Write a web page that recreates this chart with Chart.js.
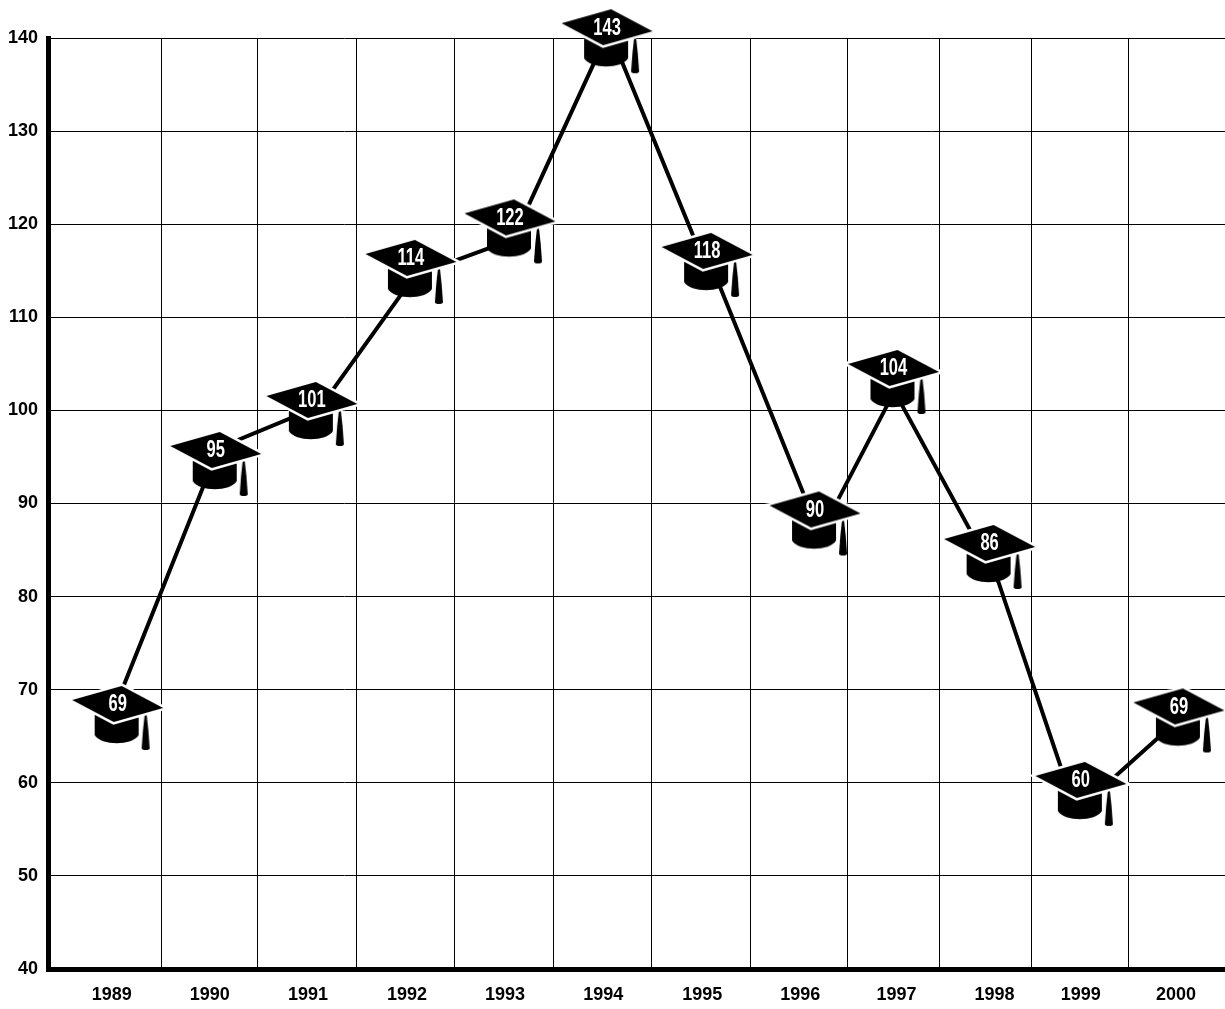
<!DOCTYPE html>
<html>
<head>
<meta charset="utf-8">
<style>html,body{margin:0;padding:0;background:#fff}canvas{display:block}</style>
<script src="https://cdn.jsdelivr.net/npm/chart.js@4"></script>
</head>
<body>
<canvas id="c" width="1225" height="1009"></canvas>
<script>
const years = [1989,1990,1991,1992,1993,1994,1995,1996,1997,1998,1999,2000];
const values = [69,95,101,114,122,143,118,90,104,86,60,69];
// where each mortarboard sits in the picture, in axis units
const hatYear = [1989.21,1990.21,1991.19,1992.20,1993.21,1994.20,1995.22,1996.32,1997.12,1998.10,1999.03,2000.03];
const hatHeight = [68.47,95.75,101.12,116.38,120.73,141.16,117.13,89.36,104.56,85.76,60.31,68.20];
// the connecting line (it kinks once behind the 1995 cap)
const lineYear = [1989.21,1990.24,1991.29,1992.24,1993.24,1994.22,1995.15,1995.27,1996.37,1997.13,1998.19,1998.98,2000.02];
const lineHeight = [68.81,95.97,100.53,114.50,118.37,140.82,116.91,115.40,86.69,102.04,81.57,56.90,66.75];
// the picture's hand-placed year gridlines and year labels, in axis units
const gridYears = [1989.657,1990.636,1991.65,1992.64,1993.654,1994.648,1995.662,1996.651,1997.589,1998.527,1999.516];
const labelYears = [1989.15,1990.15,1991.15,1992.16,1993.16,1994.16,1995.17,1996.17,1997.15,1998.15,1999.03,2000.0];
const yTicks = [40,50,60,70,80,90,100,110,120,130,140];

const FONT = '"Liberation Sans",Arial,sans-serif';

function noPadding(a){a.paddingLeft=a.paddingRight=a.paddingTop=a.paddingBottom=0;}

function makeHat(){
  const cv = document.createElement('canvas');
  cv.width = 100; cv.height = 100;
  const g = cv.getContext('2d');
  g.translate(50,50);
  // tassel
  g.fillStyle = '#000';
  g.beginPath();
  g.moveTo(27.3,8); g.lineTo(28.7,8);
  g.quadraticCurveTo(31,26,32,44);
  g.quadraticCurveTo(32,46,28,46);
  g.quadraticCurveTo(24,46,24,44);
  g.quadraticCurveTo(25,26,27.3,8);
  g.fill();
  // cap
  g.beginPath();
  g.moveTo(-23,0); g.lineTo(21,0); g.lineTo(21,31);
  g.bezierCurveTo(15,42,-17,42,-23,31);
  g.closePath(); g.fill();
  // board with white halo
  g.beginPath();
  g.moveTo(-45.5,-4); g.lineTo(4,-18); g.lineTo(45.5,4); g.lineTo(-4,18);
  g.closePath();
  g.lineWidth = 5; g.strokeStyle = '#fff'; g.lineJoin = 'miter'; g.stroke();
  g.fillStyle = '#000'; g.fill();
  return cv;
}
const hat = makeHat();

const hatLabels = {
  id:'hatLabels',
  afterDatasetsDraw(chart){
    const ctx = chart.ctx;
    const pts = chart.getDatasetMeta(0).data;
    pts.forEach((p,i)=>{
      ctx.save();
      ctx.translate(p.x, p.y+1);
      ctx.scale(0.72,1);
      ctx.fillStyle = '#fff';
      ctx.font = 'bold 23px ' + FONT;
      ctx.textAlign = 'center';
      ctx.textBaseline = 'middle';
      ctx.fillText(String(values[i]), 0, 0);
      ctx.restore();
    });
  }
};

new Chart(document.getElementById('c'),{
  type:'line',
  data:{datasets:[
    {
      data: hatYear.map((x,i)=>({x, y:hatHeight[i]})),
      showLine:false, clip:false,
      pointStyle:hat, pointRadius:50, pointHoverRadius:50
    },
    {
      data: lineYear.map((x,i)=>({x, y:lineHeight[i]})),
      borderColor:'#000', borderWidth:4, tension:0, clip:false,
      pointRadius:0, pointHoverRadius:0
    }
  ]},
  options:{
    responsive:false, animation:false, events:[],
    layout:{padding:{top:38,right:0,left:0,bottom:0},autoPadding:false},
    plugins:{legend:{display:false},tooltip:{enabled:false}},
    scales:{
      x:{
        type:'linear', position:'bottom', min:1988.5, max:2000.5,
        afterBuildTicks(a){a.ticks = gridYears.map(value=>({value}));},
        ticks:{display:false},
        grid:{color:'#000',lineWidth:1,drawTicks:false},
        border:{color:'#000',width:5},
        afterFit(a){a.height = 0;noPadding(a);}
      },
      xl:{
        type:'linear', position:'bottom', min:1988.5, max:2000.5,
        afterBuildTicks(a){a.ticks = labelYears.map(value=>({value}));},
        afterTickToLabelConversion(a){a.ticks.forEach((t,i)=>{t.label = String(years[i]);});},
        ticks:{color:'#000',font:{family:FONT,weight:'bold',size:18},maxRotation:0,autoSkip:false,padding:15},
        grid:{display:false,drawTicks:false},
        border:{display:false},
        afterFit(a){a.height = 40;noPadding(a);}
      },
      y:{
        min:40,max:140,
        afterBuildTicks(a){a.ticks = yTicks.map(value=>({value}));},
        ticks:{color:'#000',font:{family:FONT,weight:'bold',size:18},padding:10},
        grid:{color:'#000',lineWidth:1,drawTicks:false},
        border:{color:'#000',width:5},
        afterFit(a){a.width = 48;noPadding(a);}
      }
    }
  },
  plugins:[hatLabels]
});
</script>
</body>
</html>
